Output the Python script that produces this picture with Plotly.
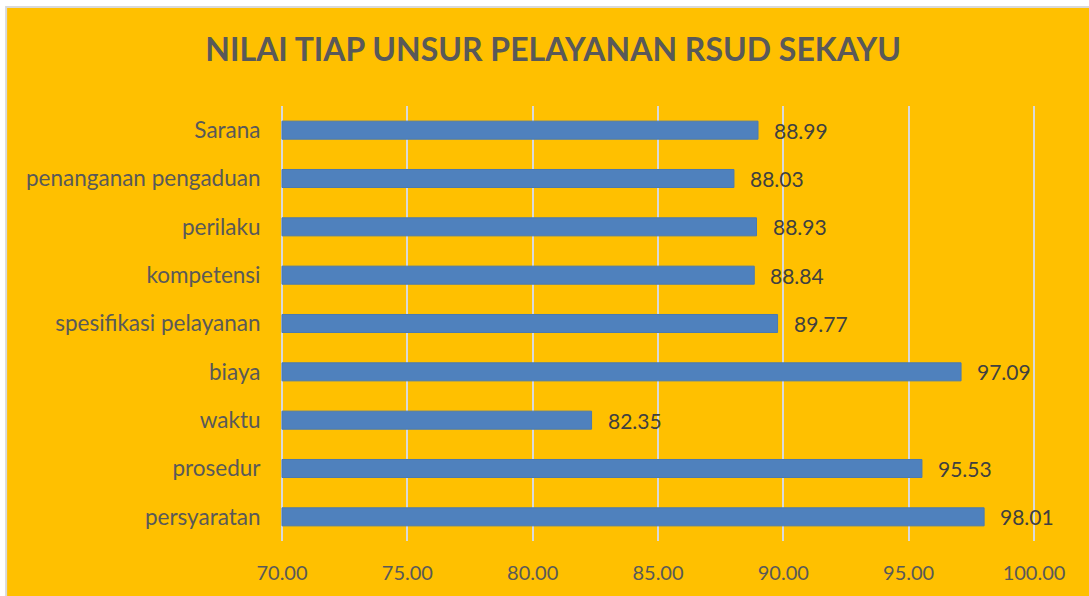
import plotly.graph_objects as go

categories = ["persyaratan", "prosedur", "waktu", "biaya", "spesifikasi pelayanan",
              "kompetensi", "perilaku", "penanganan pengaduan", "Sarana"]
values = [98.01, 95.53, 82.35, 97.09, 89.77, 88.84, 88.93, 88.03, 88.99]
axis_min = 70
tick_vals = [70, 75, 80, 85, 90, 95, 100]
tick_text = ["70.00", "75.00", "80.00", "85.00", "90.00", "95.00", "100.00"]
title_text = "NILAI TIAP UNSUR PELAYANAN RSUD SEKAYU"

FONT = "Lato"

fig = go.Figure()
fig.add_trace(go.Bar(
    y=categories, x=[v - axis_min for v in values], base=axis_min,
    orientation="h", customdata=values,
    marker=dict(color="#4F81BD", line=dict(color="#4A7AB0", width=1)),
    hovertemplate="%{y}: %{customdata:.2f}<extra></extra>",
))

for c, v in zip(categories, values):
    fig.add_annotation(x=v, y=c, text=f"{v:.2f}", showarrow=False,
                       xanchor="left", xshift=14,
                       font=dict(family=FONT, size=21, color="#404040"))

# chart border / background
fig.add_shape(type="rect", xref="paper", yref="paper",
              x0=-0.36, x1=1.08, y0=-0.136, y1=1.2276,
              fillcolor="#FFC000", line=dict(color="#D9D9D9", width=2),
              layer="below")

fig.update_layout(
    width=1089, height=596,
    margin=dict(l=279, r=52, t=106, b=55),
    paper_bgcolor="white",
    plot_bgcolor="rgba(0,0,0,0)",
    bargap=0.627,
    showlegend=False,
    title=dict(text=f"<b>{title_text}</b>", x=0.508, xanchor="center",
               y=0.916, yanchor="middle",
               font=dict(family=FONT, size=32, color="#595959")),
    xaxis=dict(range=[69.88, 100.12], tickvals=tick_vals, ticktext=tick_text,
               showgrid=True, gridcolor="#D9D9D9", gridwidth=1.5,
               zeroline=False, showline=False,
               ticks="outside", ticklen=14, tickcolor="rgba(0,0,0,0)",
               tickfont=dict(family=FONT, size=20, color="#595959")),
    yaxis=dict(showgrid=False, zeroline=False, showline=False,
               ticks="outside", ticklen=13, tickcolor="rgba(0,0,0,0)",
               tickfont=dict(family=FONT, size=22.5, color="#595959")),
)

fig.write_html("out.html", config={"displayModeBar": False},
               post_script="document.body.style.margin='0';")
